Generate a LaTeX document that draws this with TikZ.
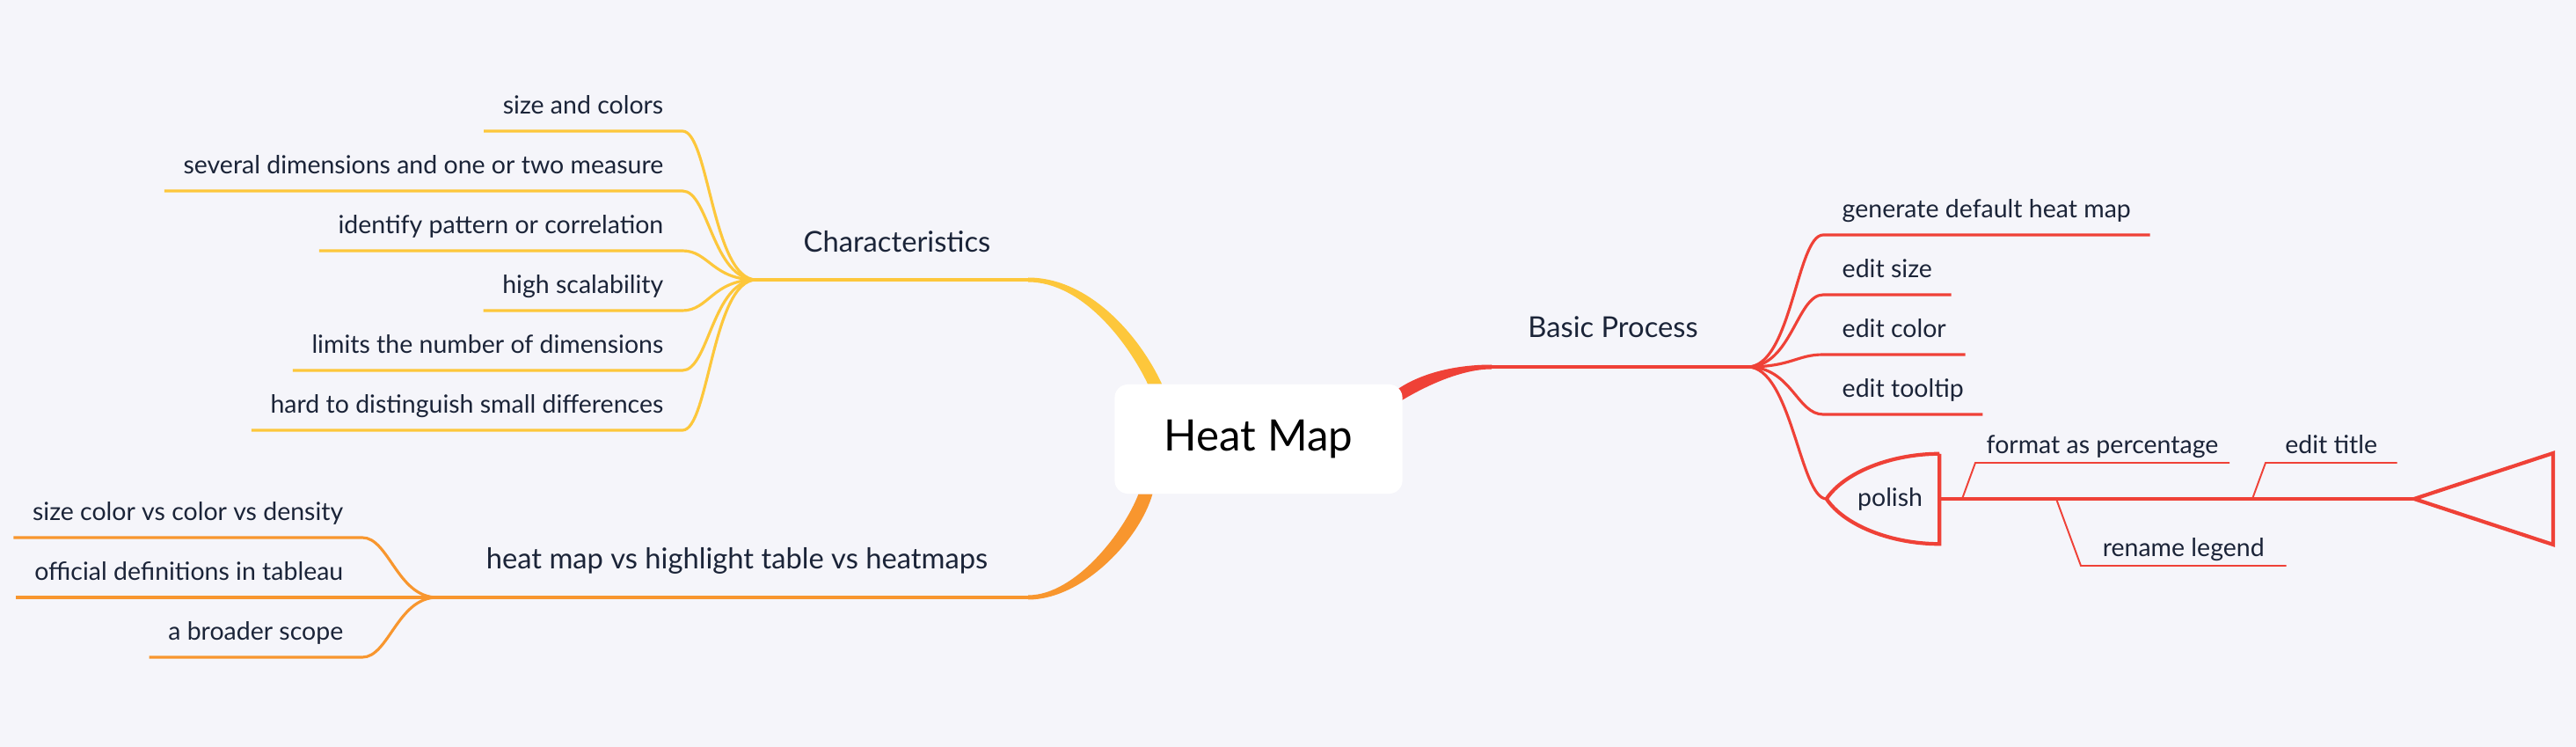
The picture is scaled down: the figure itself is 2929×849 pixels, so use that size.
\documentclass[tikz,border=0pt]{standalone}
\usepackage{fontspec}
\setmainfont{Lato}
\usetikzlibrary{calc,backgrounds}
\definecolor{pagebg}{HTML}{F5F5FA}
\definecolor{inkblue}{HTML}{1B2438}
\definecolor{chyellow}{HTML}{FDC73B}
\definecolor{hmorange}{HTML}{F8962E}
\definecolor{bpred}{HTML}{EF4137}

\begin{document}
\begin{tikzpicture}[x=0.01cm, y=-0.01cm,
    leaf/.style={font=\fontsize{8.1}{9.7}\selectfont, text=inkblue,
                 inner xsep=0.21cm, inner ysep=0pt, text depth=0.19cm},
    leafL/.style={leaf, anchor=south east},
    leafR/.style={leaf, anchor=south west},
    subleaf/.style={leaf, anchor=south west, inner xsep=0.12cm, text depth=0.1cm},
    branch/.style={font=\fontsize{9.3}{11}\selectfont, text=inkblue, anchor=base, inner sep=0pt},
    polishbox/.style={font=\fontsize{8.1}{9.7}\selectfont, text=inkblue, minimum width=1.27cm,
                      minimum height=1.01cm, text width=0.9cm, align=right, inner xsep=0.185cm},
    trunk/.style={line width=1.2pt},
    twig/.style={line width=0.9pt},
    hair/.style={line width=0.55pt}]
  \begin{pgfonlayer}{background}
    \fill[pagebg] (0,0) rectangle (2929,849);
  \end{pgfonlayer}
  \useasboundingbox (0,0) rectangle (2929,849);

  \node[fill=white, rounded corners=0.15cm, minimum width=3.27cm, minimum height=1.24cm,
        font=\fontsize{14}{16}\selectfont] (hub) at (1431,499) {Heat Map};

  \node[branch] (char) at (1020,287) {Characteristics};
  \node[branch] (basic) at (1834,384) {Basic Process};
  \node[branch] (versus) at (838,647) {heat map vs highlight table vs heatmaps};

  \coordinate (cj) at (1169,318); \coordinate (cf) at (860,318);
  \coordinate (oj) at (1169,679); \coordinate (of) at (497,679);
  \coordinate (rj) at (1696,417); \coordinate (rf) at (1987,417);

  \begin{scope}[on background layer]
    \fill[chyellow] ($(hub.152)+(8,0)$) .. controls +(-25,-54) and +(70,0) .. ($(cj)+(0,-2.5)$)
      -- ($(cj)+(0,2.5)$) .. controls +(62,0) and +(-22,-46) .. ($(hub.152)+(-8,0)$) -- cycle;
    \fill[hmorange] ($(hub.206)+(8,0)$) .. controls +(-15,52) and +(62,0) .. ($(oj)+(0,2.5)$)
      -- ($(oj)+(0,-2.5)$) .. controls +(54,0) and +(-16,42) .. ($(hub.206)+(-8,0)$) -- cycle;
    \fill[bpred] ($(hub.18)+(-12,1)$) .. controls +(28,-22) and +(-42,0) .. ($(rj)+(0,-2.5)$)
      -- ($(rj)+(0,2.5)$) .. controls +(-36,0) and +(26,-16) .. ($(hub.18)+(-4,11)$) -- cycle;
  \end{scope}

  \draw[chyellow, trunk] (cj) -- (cf);
  \draw[hmorange, trunk] (oj) -- (of);
  \draw[bpred, trunk] (rj) -- (rf);

  \node[leafL] (c1) at (776,149) {size and colors};
  \node[leafL] (c2) at (776,217) {several dimensions and one or two measure};
  \node[leafL] (c3) at (776,285) {identify pattern or correlation};
  \node[leafL] (c4) at (776,353) {high scalability};
  \node[leafL] (c5) at (776,421) {limits the number of dimensions};
  \node[leafL] (c6) at (776,489) {hard to distinguish small differences};
  \draw[chyellow, twig] (cf) .. controls +(-50,0) and +(30,0) .. (c1.south east) -- (c1.south west);
  \draw[chyellow, twig] (cf) .. controls +(-50,0) and +(30,0) .. (c2.south east) -- (c2.south west);
  \draw[chyellow, twig] (cf) .. controls +(-50,0) and +(30,0) .. (c3.south east) -- (c3.south west);
  \draw[chyellow, twig] (cf) .. controls +(-50,0) and +(30,0) .. (c4.south east) -- (c4.south west);
  \draw[chyellow, twig] (cf) .. controls +(-50,0) and +(30,0) .. (c5.south east) -- (c5.south west);
  \draw[chyellow, twig] (cf) .. controls +(-50,0) and +(30,0) .. (c6.south east) -- (c6.south west);

  \node[leafL] (o1) at (412,611) {size color vs color vs density};
  \node[leafL] (o2) at (412,679) {official definitions in tableau};
  \node[leafL] (o3) at (412,747) {a broader scope};
  \draw[hmorange, twig] (of) .. controls +(-45,0) and +(30,0) .. (o1.south east) -- (o1.south west);
  \draw[hmorange, twig] (of) .. controls +(-45,0) and +(30,0) .. (o2.south east) -- (o2.south west);
  \draw[hmorange, twig] (of) .. controls +(-45,0) and +(30,0) .. (o3.south east) -- (o3.south west);

  \node[leafR] (b1) at (2073,267) {generate default heat map};
  \node[leafR] (b2) at (2073,335) {edit size};
  \node[leafR] (b3) at (2073,403) {edit color};
  \node[leafR] (b4) at (2073,471) {edit tooltip};
  \node[polishbox] (polish) at (2141,567) {polish};
  \draw[bpred, twig] (rf) .. controls +(50,0) and +(-30,0) .. (b1.south west) -- (b1.south east);
  \draw[bpred, twig] (rf) .. controls +(50,0) and +(-30,0) .. (b2.south west) -- (b2.south east);
  \draw[bpred, twig] (rf) .. controls +(50,0) and +(-30,0) .. (b3.south west) -- (b3.south east);
  \draw[bpred, twig] (rf) .. controls +(50,0) and +(-30,0) .. (b4.south west) -- (b4.south east);
  \draw[bpred, twig] (rf) .. controls +(50,0) and +(-30,0) .. (polish.west);

  \draw[bpred, trunk] (polish.north east) -- (polish.south east)
    .. controls +(-55,0) and +(20,30) .. (polish.west)
    .. controls +(20,-30) and +(-55,0) .. (polish.north east);
  \coordinate (tip) at (2745,567);
  \draw[bpred, trunk] (polish.east) -- (tip);
  \draw[bpred, trunk] (tip) -- ++(158,-52) -- ++(0,104) -- cycle;

  \node[subleaf] (p1) at (2246,526) {format as percentage};
  \node[subleaf, minimum width=1.48cm] (p2) at (2576,526) {edit title};
  \node[subleaf, minimum width=2.32cm] (p3) at (2366,643) {rename legend};
  \coordinate (s1) at (2231,567); \coordinate (s2) at (2561,567); \coordinate (s3) at (2338,567);
  \draw[bpred, hair] (s1) -- (p1.south west) -- (p1.south east);
  \draw[bpred, hair] (s2) -- (p2.south west) -- (p2.south east);
  \draw[bpred, hair] (s3) -- (p3.south west) -- (p3.south east);
\end{tikzpicture}
\end{document}
